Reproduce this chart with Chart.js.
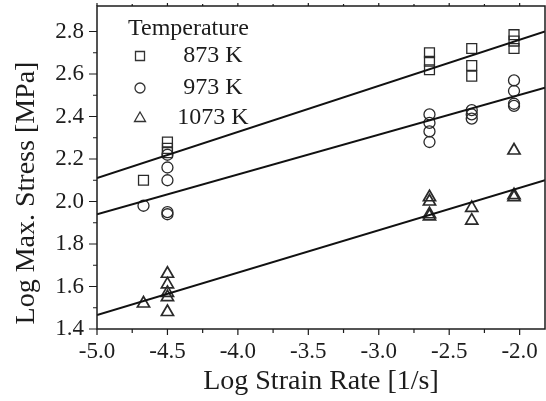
<!DOCTYPE html>
<html>
<head>
<meta charset="utf-8">
<script src="https://cdn.jsdelivr.net/npm/chart.js@4.4.1/dist/chart.umd.min.js"></script>
<style>
  html, body { margin: 0; padding: 0; background: #fff; }
  #wrap { width: 546px; height: 401px; }
</style>
</head>
<body>
<div id="wrap"><canvas id="chart"></canvas></div>
<script>
// measured points (log strain rate, log max stress)
const rate873 = [-4.67, -4.5, -4.5, -4.5, -2.64, -2.64, -2.64, -2.34, -2.34, -2.34, -2.04, -2.04, -2.04];
const stress873 = [2.10, 2.28, 2.25, 2.23, 2.70, 2.66, 2.62, 2.72, 2.64, 2.59, 2.785, 2.755, 2.72];

const rate973 = [-4.67, -4.5, -4.5, -4.5, -4.5, -4.5, -2.64, -2.64, -2.64, -2.64, -2.34, -2.34, -2.34, -2.04, -2.04, -2.04, -2.04];
const stress973 = [1.98, 2.22, 2.16, 2.10, 1.95, 1.94, 2.41, 2.37, 2.33, 2.28, 2.43, 2.41, 2.39, 2.57, 2.52, 2.46, 2.45];

const rate1073 = [-4.67, -4.5, -4.5, -4.5, -4.5, -4.5, -2.64, -2.64, -2.64, -2.64, -2.34, -2.34, -2.04, -2.04, -2.04];
const stress1073 = [1.52, 1.66, 1.61, 1.57, 1.55, 1.48, 2.02, 2.00, 1.94, 1.93, 1.97, 1.91, 2.24, 2.03, 2.02];

// fitted lines, end points
const fitRate = [-5.0, -1.82];
const fit873 = [2.11, 2.80];
const fit973 = [1.94, 2.535];
const fit1073 = [1.466, 2.10];

const xTicks = [-5.0, -4.5, -4.0, -3.5, -3.0, -2.5, -2.0];
const yTicks = [1.4, 1.6, 1.8, 2.0, 2.2, 2.4, 2.6, 2.8];

const legendLabels = ['873 K', '973 K', '1073 K'];
const legendStyles = ['rect', 'circle', 'triangle'];

const ink = '#1c1c1c';
const serif = '"Liberation Serif", "DejaVu Serif", serif';

function pairs(xs, ys) {
    return xs.map((x, i) => ({ x: x, y: ys[i] }));
}

function drawMarker(ctx, style, x, y) {
    ctx.beginPath();
    if (style === 'rect') {
        ctx.rect(x - 4.5, y - 4.5, 9, 9);
    } else if (style === 'circle') {
        ctx.arc(x, y, 5, 0, Math.PI * 2);
    } else {
        ctx.moveTo(x, y - 6);
        ctx.lineTo(x + 5.5, y + 3.5);
        ctx.lineTo(x - 5.5, y + 3.5);
        ctx.closePath();
    }
    ctx.stroke();
}

// no edge padding from tick labels, so the box sits where the scan has it
function noPadding(scale) {
    scale.paddingTop = 0;
    scale.paddingBottom = 0;
    scale.paddingLeft = 0;
    scale.paddingRight = 0;
}

// frame, tick marks, titles and legend
const decorations = {
    id: 'decorations',
    afterDraw(chart) {
        const ctx = chart.ctx;
        const a = chart.chartArea;
        const xs = chart.scales.x;
        const ys = chart.scales.y;
        ctx.save();
        ctx.strokeStyle = ink;
        ctx.lineWidth = 1.5;
        ctx.strokeRect(a.left, a.top, a.right - a.left, a.bottom - a.top);

        ctx.lineWidth = 1.2;
        ctx.beginPath();
        for (let v = -5.0; v <= -1.8; v += 0.25) {
            const px = xs.getPixelForValue(v);
            const major = Math.abs(v * 2 - Math.round(v * 2)) < 1e-6;
            const len = major ? 6 : 4;
            ctx.moveTo(px, a.bottom);
            ctx.lineTo(px, a.bottom + len);
            ctx.moveTo(px, a.top);
            ctx.lineTo(px, a.top - (major ? 3 : 2));
        }
        for (let v = 1.4; v <= 2.9; v += 0.1) {
            const py = ys.getPixelForValue(v);
            const major = Math.round(v * 10) % 2 === 0;
            ctx.moveTo(a.left, py);
            ctx.lineTo(a.left - (major ? 8 : 4), py);
        }
        ctx.stroke();

        ctx.fillStyle = ink;
        ctx.textAlign = 'center';
        ctx.textBaseline = 'middle';
        ctx.font = '28px ' + serif;
        ctx.fillText('Log Strain Rate [1/s]', (a.left + a.right) / 2, 382);

        ctx.save();
        ctx.translate(27, 193);
        ctx.rotate(-Math.PI / 2);
        ctx.font = '28px ' + serif;
        ctx.fillText('Log Max. Stress [MPa]', 0, 0);
        ctx.restore();

        ctx.font = '24px ' + serif;
        ctx.textAlign = 'left';
        ctx.fillText('Temperature', 128, 29);
        ctx.textAlign = 'center';
        ctx.strokeStyle = '#333';
        ctx.lineWidth = 1.3;
        const rowsY = [56, 88, 118];
        legendLabels.forEach((label, i) => {
            drawMarker(ctx, legendStyles[i], 140, rowsY[i]);
            ctx.fillText(label, 213, rowsY[i]);
        });
        ctx.restore();
    }
};

const fitLine = (data) => ({
    type: 'line',
    data: pairs(fitRate, data),
    borderColor: '#111',
    borderWidth: 2,
    pointRadius: 0,
    fill: false,
    order: 1
});

const markerSet = (xs, ys, style, radius, width) => ({
    type: 'scatter',
    data: pairs(xs, ys),
    pointStyle: style,
    pointRadius: radius,
    pointHoverRadius: radius,
    borderColor: '#2a2a2a',
    backgroundColor: 'rgba(0,0,0,0)',
    borderWidth: width,
    order: 2
});

const ctx = document.getElementById('chart').getContext('2d');
new Chart(ctx, {
    data: {
        datasets: [
            markerSet(rate873, stress873, 'rect', 7, 1.3),
            markerSet(rate973, stress973, 'circle', 5.5, 1.3),
            markerSet(rate1073, stress1073, 'triangle', 7, 1.7),
            fitLine(fit873),
            fitLine(fit973),
            fitLine(fit1073)
        ]
    },
    options: {
        responsive: true,
        maintainAspectRatio: false,
        animation: false,
        layout: { autoPadding: false, padding: { top: 6, right: 1, left: 0, bottom: 0 } },
        plugins: {
            legend: { display: false },
            tooltip: { enabled: false }
        },
        scales: {
            x: {
                type: 'linear',
                min: -5.0,
                max: -1.82,
                afterBuildTicks: (scale) => { scale.ticks = xTicks.map(v => ({ value: v })); },
                afterFit: (scale) => { scale.height = 72; noPadding(scale); },
                // invisible tick length gives the label gap
                grid: { display: false, drawTicks: true, tickLength: 9, tickColor: 'rgba(0,0,0,0)' },
                border: { display: false },
                ticks: {
                    padding: 0,
                    color: ink,
                    maxRotation: 0,
                    font: { family: serif, size: 23 },
                    callback: (v) => Number(v).toFixed(1)
                }
            },
            y: {
                type: 'linear',
                min: 1.4,
                max: 2.92,
                afterBuildTicks: (scale) => { scale.ticks = yTicks.map(v => ({ value: v })); },
                afterFit: (scale) => { scale.width = 97; noPadding(scale); },
                grid: { display: false, drawTicks: false },
                border: { display: false },
                ticks: {
                    padding: 13,
                    color: ink,
                    font: { family: serif, size: 23 },
                    callback: (v) => Number(v).toFixed(1)
                }
            }
        }
    },
    plugins: [decorations]
});
</script>
</body>
</html>
